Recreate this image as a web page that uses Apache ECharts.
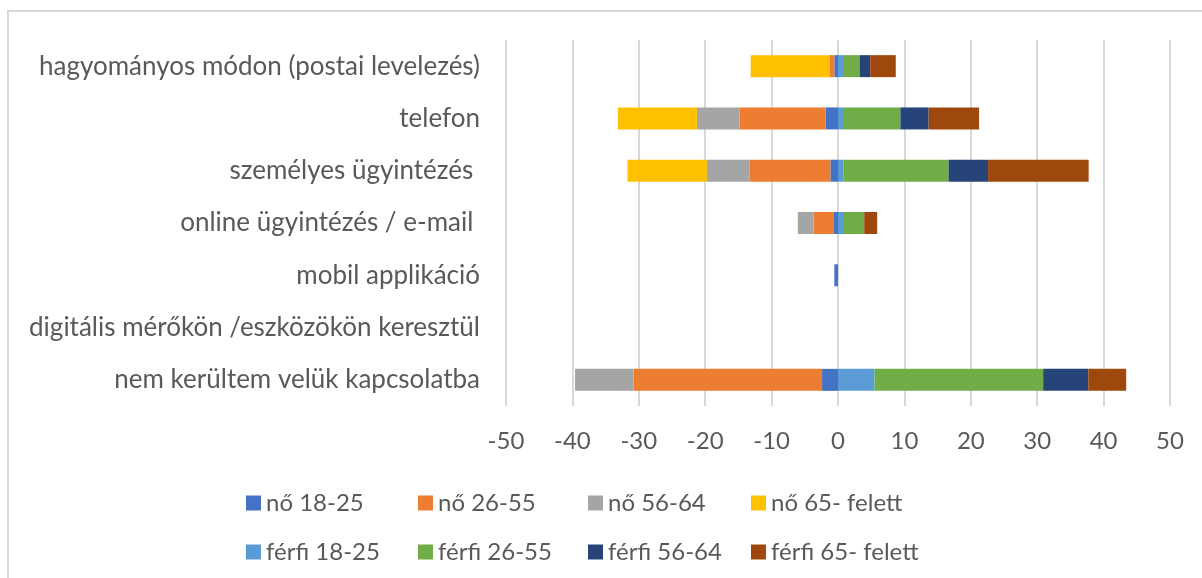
<!DOCTYPE html>
<html>
<head>
<meta charset="utf-8">
<script src="https://cdn.jsdelivr.net/npm/echarts@6/dist/echarts.min.js"></script>
<style>
  html, body { margin: 0; padding: 0; background: #fff; }
  #chart { width: 1202px; height: 578px; }
</style>
</head>
<body>
<div id="chart"></div>
<script>
// categories, top to bottom
const categories = [
  'hagyományos módon (postai levelezés)',
  'telefon',
  'személyes ügyintézés ',
  'online ügyintézés / e-mail ',
  'mobil applikáció',
  'digitális mérőkön /eszközökön keresztül',
  'nem kerültem velük kapcsolatba'
];

// women on the left (negative), men on the right
const no1825 = [-0.55, -1.85, -1.15, -0.6, -0.55, 0, -2.4];
const no2655 = [-0.75, -13.0, -12.2, -3.05, 0, 0, -28.4];
const no5664 = [0, -6.4, -6.4, -2.4, 0, 0, -8.8];
const no65 = [-11.85, -11.9, -11.95, 0, 0, 0, 0];
const ferfi1825 = [0.75, 0.75, 0.85, 0.75, 0, 0, 5.5];
const ferfi2655 = [2.5, 8.65, 15.8, 3.2, 0, 0, 25.4];
const ferfi5664 = [1.6, 4.25, 5.95, 0, 0, 0, 6.8];
const ferfi65 = [3.85, 7.6, 15.15, 1.95, 0, 0, 5.7];

const seriesNames = [
  'nő 18-25', 'nő 26-55', 'nő 56-64', 'nő 65- felett',
  'férfi 18-25', 'férfi 26-55', 'férfi 56-64', 'férfi 65- felett'
];
const seriesData = [no1825, no2655, no5664, no65, ferfi1825, ferfi2655, ferfi5664, ferfi65];
const colors = ['#4472C4', '#ED7D31', '#A5A5A5', '#FFC000', '#5B9BD5', '#70AD47', '#264478', '#9E480E'];

const font = 'Lato, "Liberation Sans", sans-serif';
const textColor = '#595959';

// legend laid out like excel: 4 fixed columns, 2 rows
const legendCols = [241, 413, 583, 746];
const legendRows = [486, 535];
const legends = seriesNames.map((name, i) => ({
  left: legendCols[i % 4],
  top: legendRows[Math.floor(i / 4)],
  itemWidth: 15,
  itemHeight: 15,
  itemGap: 0,
  icon: 'rect',
  selectedMode: false,
  data: [name],
  textStyle: { fontFamily: font, fontSize: 24, color: textColor }
}));

const chart = echarts.init(document.getElementById('chart'));
chart.setOption({
  animation: false,
  color: colors,
  graphic: [{
    type: 'rect',
    shape: { x: 8, y: 11, width: 1400, height: 800 },
    style: { fill: 'none', stroke: '#d9d9d9', lineWidth: 2 },
    silent: true
  }],
  grid: { left: 506, right: 32, top: 40, bottom: 172 },
  legend: legends,
  xAxis: {
    type: 'value',
    min: -50,
    max: 50,
    interval: 10,
    axisLine: { show: false },
    axisTick: { show: false },
    splitLine: { lineStyle: { color: '#d9d9d9', width: 2 } },
    axisLabel: { fontFamily: font, fontSize: 24, color: textColor, margin: 23 }
  },
  yAxis: {
    type: 'category',
    data: categories,
    inverse: true,
    axisLine: { show: false },
    axisTick: { show: false },
    axisLabel: { fontFamily: font, fontSize: 26, color: textColor, margin: 26 }
  },
  series: seriesNames.map((name, i) => ({
    name: name,
    type: 'bar',
    stack: 'total',
    barWidth: 22,
    data: seriesData[i]
  }))
});
</script>
</body>
</html>
